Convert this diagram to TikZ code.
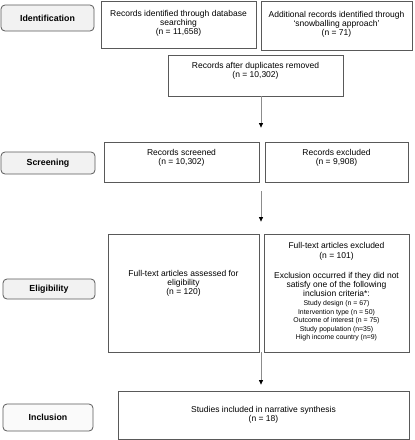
\documentclass[tikz,border=0pt]{standalone}
\usepackage{fontspec}
\setmainfont{Liberation Sans}
\usetikzlibrary{arrows.meta}
\usetikzlibrary{positioning}
\tikzset{box/.style={rectangle, draw=black!65, line width=0.8pt, inner sep=0pt},
stage/.style={box, rounded corners=4pt, fill=black!5, font=\fontsize{8.8}{10}\selectfont\bfseries},
txt/.style={align=center, inner sep=0pt, font=\fontsize{8.5}{9.2}\selectfont},
flow/.style={->, draw=black!45, line width=0.7pt},
>={Triangle[length=4.5pt,width=4pt,black]}}
\newcommand{\crit}[1]{{\fontsize{6.9}{8.5}\selectfont #1}}

\begin{document}
\begin{tikzpicture}[x=1pt,y=-1pt]
    \useasboundingbox (0,0) rectangle (415,440);

    % stages on the left
    \node (st_id) [stage, minimum width=93pt, minimum height=26pt] at (47.5,18) {Identification};
    \node (st_scr) [stage, minimum width=94pt, minimum height=22pt] at (48,163) {Screening};
    \node (st_elig) [stage, minimum width=92pt, minimum height=20pt] at (49,289) {Eligibility};
    \node (st_incl) [stage, minimum width=90pt, minimum height=27pt, fill=black!2] at (48,417.5) {Inclusion};

    % boxes
    \node (rec_db) [box, minimum width=155pt, minimum height=47pt] at (178.5,24.5) {};
    \node (rec_snow) [box, minimum width=151pt, minimum height=49pt] at (336.5,25.5) {};
    \node (rec_dup) [box, minimum width=175pt, minimum height=41pt] at (255.5,75.5) {};
    \node (rec_scr) [box, minimum width=155pt, minimum height=40pt] at (181.5,162) {};
    \node (rec_exc) [box, minimum width=143pt, minimum height=40pt] at (336.5,162) {};
    \node (ft_ass) [box, minimum width=151pt, minimum height=118pt] at (183.5,293) {};
    \node (ft_exc) [box, minimum width=145pt, minimum height=118pt] at (336.5,293) {};
    \node (incl) [box, minimum width=291pt, minimum height=48pt] at (263.5,415) {};

    % texts
    \node (rec_db_t) [txt] at ([yshift=1pt]rec_db) {Records identified through database\\searching\\(n = 11,658)};
    \node (rec_snow_t) [txt] at ([yshift=1.5pt]rec_snow) {Additional records identified through\\`snowballing approach'\\(n = 71)};
    \node (rec_dup_t) [txt] at ([yshift=4.5pt]rec_dup) {Records after duplicates removed\\(n = 10,302)};
    \node (rec_scr_t) [txt] at ([yshift=4pt]rec_scr) {Records screened\\(n = 10,302)};
    \node (rec_exc_t) [txt] at ([yshift=4pt]rec_exc) {Records excluded\\(n = 9,908)};
    \node (ft_ass_t) [txt] at ([yshift=10pt]ft_ass) {Full-text articles assessed for\\eligibility\\(n = 120)};
    \node (ft_exc_t) [txt] at ([yshift=1pt]ft_exc) {Full-text articles excluded\\(n = 101)\\[11pt]
        Exclusion occurred if they did not\\satisfy one of the following\\inclusion criteria*:\\
        \crit{Study design (n = 67)}\\[-0.7pt]
        \crit{Intervention type (n = 50)}\\[-0.7pt]
        \crit{Outcome of interest (n = 75)}\\[-0.7pt]
        \crit{Study population (n=35)}\\[-0.7pt]
        \crit{High income country (n=9)}};
    \node (incl_t) [txt] at (incl) {Studies included in narrative synthesis\\(n = 18)};

    \coordinate (ax) at (261,0);

    \draw [flow, shorten >=14pt] (rec_dup.south -| ax) -- (rec_scr.north -| ax);
    \draw [flow, shorten <=9pt, shorten >=12pt] (rec_scr.south -| ax) -- (ft_ass.north -| ax);
    \draw [flow, shorten >=6pt] (ft_ass.south -| ax) -- (incl.north -| ax);

\end{tikzpicture}
\end{document}
